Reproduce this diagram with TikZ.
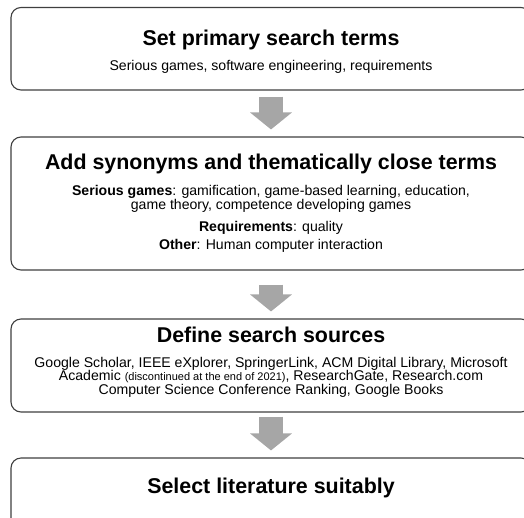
\documentclass[tikz,border=0pt]{standalone}
\usepackage{fontspec}
\setmainfont{Liberation Sans}
\usetikzlibrary{arrows.meta}
\definecolor{frame}{HTML}{3F3F3F}
\definecolor{arrowgray}{HTML}{A6A6A6}
\tikzset{
  stage/.style={draw=frame, line width=1.1pt, rounded corners=10pt,
    minimum width=520pt, inner sep=0pt},
  heading/.style={anchor=base, inner sep=0pt, font=\fontsize{21.4}{24}\selectfont\bfseries},
  detail/.style={anchor=base, inner sep=0pt, font=\fontsize{14.1}{14}\selectfont}
}
\tikzset{flow/.style={arrowgray, line width=24pt, -{Triangle[width=41pt,length=17pt]}}}
\begin{document}
\begin{tikzpicture}[x=1pt,y=-1pt]
\useasboundingbox (0,0) rectangle (524,517);
\clip (0,0) rectangle (524,517);

% process stages
\node[stage, minimum height=82.5pt] (b1) at (271,48.75) {};
\node[stage, minimum height=133pt]  (b2) at (271,203.5) {};
\node[stage, minimum height=93pt]   (b3) at (271,365.5) {};
\node[stage, minimum height=72pt]   (b4) at (271,494) {};

% stage 1
\node[heading] (t1) at (271,45) {Set primary search terms};
\node[detail]  (d1) at (271,70) {Serious games, software engineering, requirements};

% stage 2
\node[heading] (t2) at (271,169) {Add synonyms and thematically close terms};
\node[detail]  (d2a) at (271,195) {\textbf{Serious games}: gamification, game-based learning,\ education,};
\node[detail]  (d2b) at (271,209) {game theory,\ competence developing games};
\node[detail]  (d2c) at (271,231) {\textbf{Requirements}: quality};
\node[detail]  (d2d) at (271,249) {\textbf{Other}: Human computer interaction};

% stage 3
\node[heading] (t3) at (271,342) {Define search sources};
\node[detail]  (d3a) at (271,367) {Google Scholar, IEEE eXplorer, SpringerLink, ACM Digital Library, Microsoft};
\node[detail]  (d3b) at (271,380.5) {Academic {\fontsize{11}{11}\selectfont(discontinued at the end of 2021)}, ResearchGate,\ Research.com};
\node[detail]  (d3c) at (271,394) {Computer Science Conference Ranking,\ Google Books};

% stage 4
\node[heading] (t4) at (271,493) {Select literature suitably};

% block arrows between stages
\draw[flow, shorten <=6pt, shorten >=7pt] (b1.south) -- (b2.north);
\draw[flow, shorten <=14pt, shorten >=7pt] (b2.south) -- (b3.north);
\draw[flow, shorten <=4pt, shorten >=7pt] (b3.south) -- (b4.north);
\end{tikzpicture}
\end{document}
